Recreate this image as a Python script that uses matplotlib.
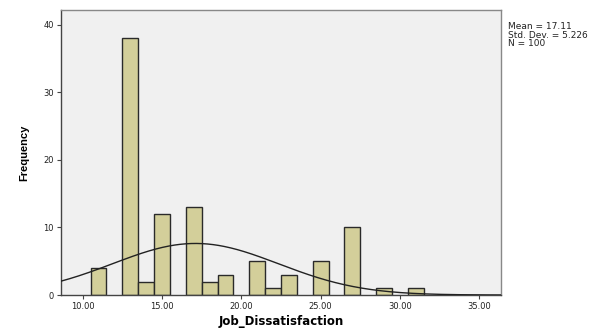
import numpy as np
import matplotlib
matplotlib.use("Agg")
import matplotlib.pyplot as plt

plt.rcParams['font.family'] = ['Liberation Sans', 'DejaVu Sans']

# 工作不满意度频数分布 (组距 1)
bin_centers = [11, 13, 14, 15, 17, 18, 19, 21, 22, 23, 25, 27, 29, 31]
counts = [4, 38, 2, 12, 13, 2, 3, 5, 1, 3, 5, 10, 1, 1]
mean_val = 17.11
std_val = 5.226
n_total = 100
x_ticks = [10, 15, 20, 25, 30, 35]
y_ticks = [0, 10, 20, 30, 40]

fig = plt.figure(figsize=(6.06, 3.29), dpi=100)
ax = fig.add_axes([0.1007, 0.1033, 0.7260, 0.8663])
ax.set_facecolor('#F0F0F0')

ax.bar(bin_centers, counts, width=1.0, color='#D3CF9A', edgecolor='#2a2a2a',
       linewidth=1.0, zorder=2)

# 正态曲线
xs = np.linspace(8.64, 36.36, 400)
ys = n_total * 1.0 / (std_val * np.sqrt(2 * np.pi)) * np.exp(-0.5 * ((xs - mean_val) / std_val) ** 2)
ax.plot(xs, ys, color='#222222', linewidth=1.0, zorder=3)

ax.set_xlim(8.64, 36.36)
ax.set_ylim(0, 42.2)
ax.set_xticks(x_ticks)
ax.set_xticklabels(['%.2f' % v for v in x_ticks], family='DejaVu Sans', fontsize=6)
ax.set_yticks(y_ticks)
ax.set_yticklabels([str(v) for v in y_ticks], family='DejaVu Sans', fontsize=6)
ax.tick_params(axis='both', length=3, pad=2, color='#444444', labelcolor='#222222')

for side in ['left', 'bottom']:
    ax.spines[side].set_color('#444444')
    ax.spines[side].set_linewidth(1.0)
for side in ['top', 'right']:
    ax.spines[side].set_color('#888888')
    ax.spines[side].set_linewidth(1.0)

ax.set_xlabel('Job_Dissatisfaction', family='DejaVu Sans', fontsize=8.5,
              fontweight='bold', labelpad=3)
ax.set_ylabel('Frequency', fontsize=8, fontweight='bold', labelpad=10)

fig.text(0.839, 0.932, 'Mean = %.2f\nStd. Dev. = %.3f\nN = %d' % (mean_val, std_val, n_total),
         family='DejaVu Sans', fontsize=6.5, va='top', ha='left', linespacing=0.88,
         color='#222222')

fig.savefig('out.png', dpi=100)
